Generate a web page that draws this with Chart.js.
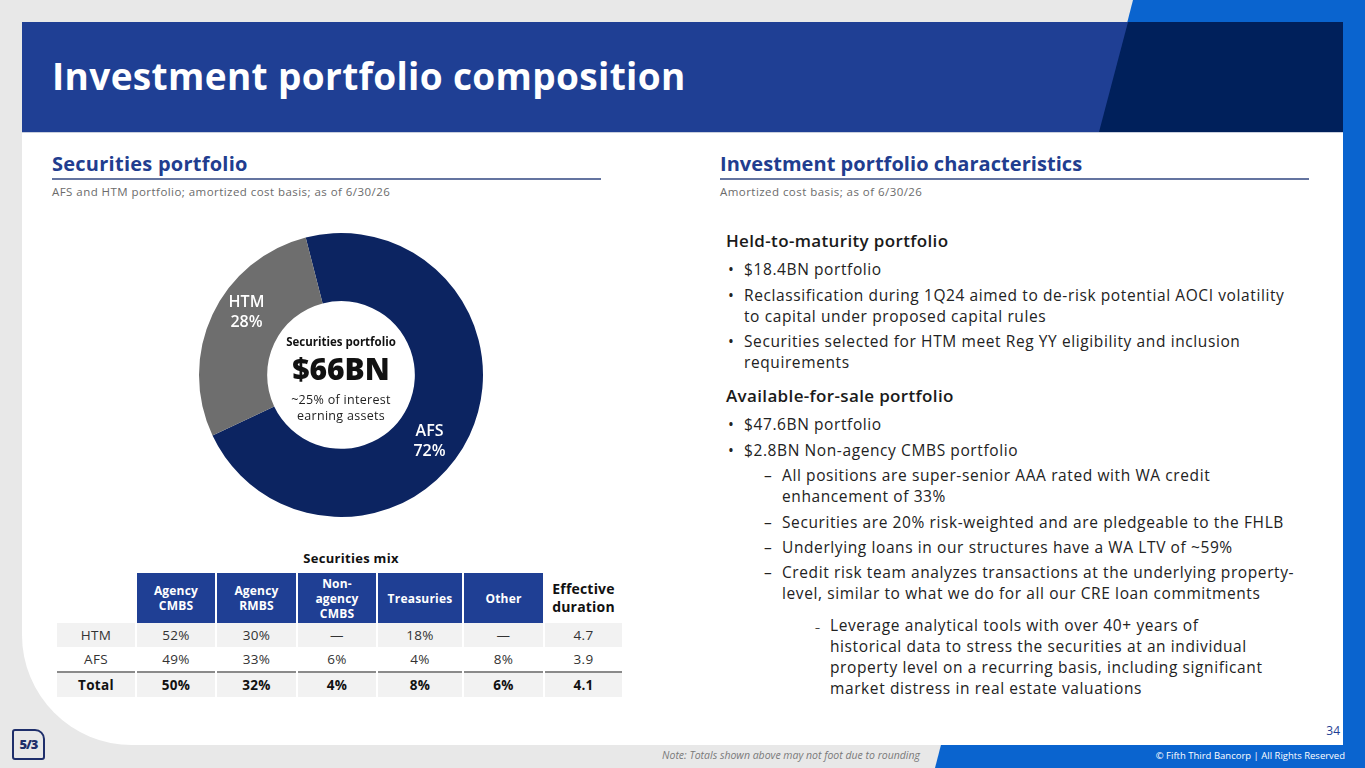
<!DOCTYPE html>
<html lang="en">
<head>
  <meta charset="UTF-8" />
  <title>Investment portfolio composition</title>
  <script src="https://cdn.jsdelivr.net/npm/chart.js"></script>
  <style>
    body { margin: 0; width: 1365px; height: 768px; overflow: hidden; position: relative; background: #e8e8e8; font-family: "Open Sans", sans-serif; color: #222; }
    .abs { position: absolute; }
    #blueSlant { left: 0; top: 0; width: 1365px; height: 768px; background: #0a64cf; clip-path: polygon(1133px 0, 1365px 0, 1365px 768px, 935px 768px); }
    #header { left: 22px; top: 22px; width: 1321px; height: 110px; background: #1f3f94; overflow: hidden; }
    #header .navy { position: absolute; inset: 0; background: #00205b; clip-path: polygon(1106px 0, 1321px 0, 1321px 110px, 1077px 110px); }
    #header h1 { position: absolute; left: 30px; top: 28px; margin: 0; color: #fff; font-size: 37px; font-weight: 700; letter-spacing: 0.35px; white-space: nowrap; }
    #card { left: 22px; top: 132px; width: 1321px; height: 613px; background: #fff; border-bottom-left-radius: 110px; border-top: 1px solid #c9cfdd; box-sizing: border-box; }
    .secHead { color: #213d8f; font-weight: 700; font-size: 20px; letter-spacing: 0.25px; white-space: nowrap; line-height: 24px; }
    .secHead.r { letter-spacing: 0.05px; }
    .rule { height: 2px; background: #6474a0; }
    .secSub { color: #6b6b6b; font-size: 11.5px; letter-spacing: 0.45px; white-space: nowrap; }
    #donutBox { left: 191px; top: 225px; width: 300px; height: 300px; }
    .center { text-align: center; white-space: nowrap; color: #111; }
    table { border-collapse: collapse; table-layout: fixed; font-size: 13.5px; }
    td, th { text-align: center; padding: 0; border-right: 2px solid #fff; }
    th { background: #1f3f94; color: #fff; font-size: 12px; font-weight: 700; line-height: 15px; height: 50px; letter-spacing: 0.2px; }
    th.blank { background: #fff; }
    th.dur { background: #fff; color: #111; font-size: 14px; line-height: 18px; }
    td { height: 24px; color: #333; letter-spacing: 0.3px; }
    tr.g td { background: #f2f2f2; }
    tr.total td { background: #f2f2f2; font-weight: 700; color: #111; border-top: 2px solid #8a8a8a; }
    .txt { white-space: nowrap; font-size: 15.5px; letter-spacing: 0.6px; line-height: 21px; color: #222; }
    .h2 { font-size: 17px; font-weight: 600; letter-spacing: 0.35px; color: #1a1a1a; }
  </style>
</head>
<body>
  <div id="blueSlant" class="abs"></div>
  <div id="header" class="abs"><div class="navy"></div><h1>Investment portfolio composition</h1></div>
  <div id="card" class="abs"></div>

  <div class="abs secHead" style="left:52px; top:152px;">Securities portfolio</div>
  <div class="abs rule" style="left:52px; top:178px; width:549px;"></div>
  <div class="abs secSub" style="left:52px; top:184px;">AFS and HTM portfolio; amortized cost basis; as of 6/30/26</div>

  <div class="abs secHead r" style="left:720px; top:152px;">Investment portfolio characteristics</div>
  <div class="abs rule" style="left:720px; top:178px; width:589px;"></div>
  <div class="abs secSub" style="left:720px; top:184px;">Amortized cost basis; as of 6/30/26</div>

  <div id="donutBox" class="abs"><canvas id="donut"></canvas></div>
  <div class="abs center" style="left:241px; top:334px; width:200px; font-size:11.5px; font-weight:700;">Securities portfolio</div>
  <div class="abs center" style="left:241px; top:349px; width:200px; font-size:30px; font-weight:800; line-height:40px;">$66BN</div>
  <div class="abs center" style="left:241px; top:392px; width:200px; font-size:12.5px; line-height:15.5px; letter-spacing:0.3px; color:#222;">~25% of interest<br>earning assets</div>

  <div class="abs center" style="left:251px; top:549px; width:200px; font-size:13px; font-weight:700; letter-spacing:0.3px;">Securities mix</div>
  <table id="mix" class="abs" style="left:57px; top:573px;"></table>

  <div id="rightText"></div>

  <div class="abs" style="left:1300px; top:722px; width:40px; text-align:right; font-size:12px; color:#1f3f94;">34</div>
  <div class="abs" style="left:12px; top:729px; width:29px; height:27px; border:2px solid #1f2f6b; border-radius:3px 10px 3px 3px; color:#1f2f6b; font-weight:800; font-size:13px; line-height:27px; text-align:center; letter-spacing:-1px;">5/3</div>
  <div class="abs" style="left:500px; top:748px; width:420px; text-align:right; font-size:10.5px; font-style:italic; color:#7a7a7a;">Note: Totals shown above may not foot due to rounding</div>
  <div class="abs" style="left:1000px; top:749px; width:345px; text-align:right; font-size:9.5px; color:#fff;">© Fifth Third Bancorp | All Rights Reserved</div>

  <script>
    // donut data
    const portfolioLabels = ['AFS', 'HTM'];
    const portfolioShares = [72, 28];
    const portfolioColors = ['#0c2461', '#6e6e6e'];

    // securities mix table
    const mixColumns = ['Agency\nCMBS', 'Agency\nRMBS', 'Non-\nagency\nCMBS', 'Treasuries', 'Other'];
    const mixRowLabels = ['HTM', 'AFS', 'Total'];
    const htmMix = ['52%', '30%', '—', '18%', '—'];
    const afsMix = ['49%', '33%', '6%', '4%', '8%'];
    const totalMix = ['50%', '32%', '4%', '8%', '6%'];
    const effectiveDuration = ['4.7', '3.9', '4.1'];

    // right hand text
    const htmHeading = 'Held-to-maturity portfolio';
    const htmBullets = [
      '$18.4BN portfolio',
      'Reclassification during 1Q24 aimed to de-risk potential AOCI volatility\nto capital under proposed capital rules',
      'Securities selected for HTM meet Reg YY eligibility and inclusion\nrequirements'
    ];
    const afsHeading = 'Available-for-sale portfolio';
    const afsBullets = ['$47.6BN portfolio', '$2.8BN Non-agency CMBS portfolio'];
    const cmbsDashes = [
      'All positions are super-senior AAA rated with WA credit\nenhancement of 33%',
      'Securities are 20% risk-weighted and are pledgeable to the FHLB',
      'Underlying loans in our structures have a WA LTV of ~59%',
      'Credit risk team analyzes transactions at the underlying property-\nlevel, similar to what we do for all our CRE loan commitments'
    ];
    const subDash = 'Leverage analytical tools with over 40+ years of\nhistorical data to stress the securities at an individual\nproperty level on a recurring basis, including significant\nmarket distress in real estate valuations';

    // build table
    const widths = [79, 80, 81, 80, 86, 81, 79];
    const table = document.getElementById('mix');
    let html = '<colgroup>' + widths.map(w => `<col style="width:${w}px">`).join('') + '</colgroup>';
    html += '<tr><th class="blank"></th>' + mixColumns.map(c => `<th>${c.replace(/\n/g, '<br>')}</th>`).join('') +
      '<th class="dur">Effective<br>duration</th></tr>';
    const rowsData = [htmMix, afsMix, totalMix];
    rowsData.forEach((vals, i) => {
      const cls = i === 0 ? 'g' : (i === 2 ? 'total' : '');
      html += `<tr class="${cls}"><td>${mixRowLabels[i]}</td>` + vals.map(v => `<td>${v}</td>`).join('') +
        `<td>${effectiveDuration[i]}</td></tr>`;
    });
    table.innerHTML = html;

    // build right text
    const rt = document.getElementById('rightText');
    function line(left, top, text, cls) {
      const d = document.createElement('div');
      d.className = 'abs txt ' + (cls || '');
      d.style.left = left + 'px';
      d.style.top = top + 'px';
      d.innerHTML = text.replace(/\n/g, '<br>');
      rt.appendChild(d);
    }
    line(726, 230, htmHeading, 'h2');
    const htmTops = [259, 285, 331];
    htmBullets.forEach((b, i) => { line(728, htmTops[i], '•'); line(744, htmTops[i], b); });
    line(726, 385, afsHeading, 'h2');
    const afsTops = [414, 440];
    afsBullets.forEach((b, i) => { line(728, afsTops[i], '•'); line(744, afsTops[i], b); });
    const dashTops = [465, 512, 537, 562];
    cmbsDashes.forEach((b, i) => { line(764, dashTops[i], '–'); line(782, dashTops[i], b); });
    line(815, 615, '<span style="font-size:10px">–</span>');
    line(830, 615, subDash);

    // label plugin for the donut
    const sliceLabels = {
      id: 'sliceLabels',
      afterDatasetsDraw(chart) {
        const ctx = chart.ctx;
        const meta = chart.getDatasetMeta(0);
        ctx.save();
        ctx.fillStyle = '#fff';
        ctx.textAlign = 'center';
        ctx.textBaseline = 'middle';
        ctx.font = '600 16px "Open Sans"';
        meta.data.forEach((arc, i) => {
          const mid = (arc.startAngle + arc.endAngle) / 2 + 10 * Math.PI / 180;
          const r = 112;
          const x = arc.x + Math.cos(mid) * r - 3;
          const y = arc.y + Math.sin(mid) * r + 2;
          ctx.fillText(chart.data.labels[i], x, y - 10);
          ctx.fillText(chart.data.datasets[0].data[i] + '%', x, y + 10);
        });
        ctx.restore();
      }
    };

    new Chart(document.getElementById('donut'), {
      type: 'doughnut',
      data: {
        labels: portfolioLabels,
        datasets: [{ data: portfolioShares, backgroundColor: portfolioColors, borderWidth: 0 }]
      },
      options: {
        responsive: true,
        maintainAspectRatio: false,
        animation: false,
        radius: 142,
        cutout: 78,
        rotation: -14.4,
        layout: { padding: 0 },
        plugins: { legend: { display: false }, tooltip: { enabled: false } },
        events: []
      },
      plugins: [sliceLabels]
    });
  </script>
</body>
</html>
